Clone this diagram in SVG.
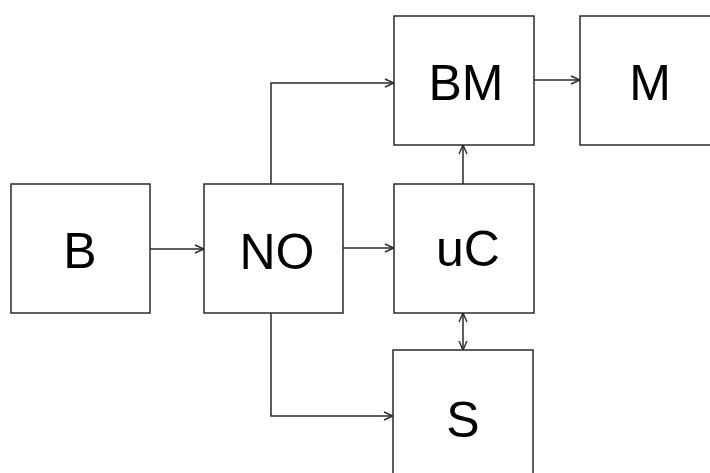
<svg xmlns="http://www.w3.org/2000/svg" width="710" height="473" viewBox="0 0 710 473">
<style>
.box{fill:#fff;stroke:#2a2a2a;stroke-width:1.5}
.lbl{font-family:"Liberation Sans",Arial,sans-serif;font-size:50px;fill:#000;text-anchor:middle}
.con{fill:none;stroke:#2a2a2a;stroke-width:1.5}
</style>
<defs>
<marker id="arr" viewBox="0 0 10 10" refX="10" refY="5" markerWidth="10" markerHeight="10" markerUnits="userSpaceOnUse" orient="auto-start-reverse">
<path d="M1,1 L10,5 L1,9" fill="none" stroke="#2a2a2a" stroke-width="1.4"/>
</marker>
</defs>
<rect width="710" height="473" fill="#fff"/>
<g id="connectors">
<path class="con" d="M150,249 H204" marker-end="url(#arr)"/>
<path class="con" d="M343,248 H394" marker-end="url(#arr)"/>
<path class="con" d="M271,184 V83 H394" marker-end="url(#arr)"/>
<path class="con" d="M534,80 H580" marker-end="url(#arr)"/>
<path class="con" d="M463,184 V145" marker-end="url(#arr)"/>
<path class="con" d="M463,313 V350" marker-start="url(#arr)" marker-end="url(#arr)"/>
<path class="con" d="M271,313 V416 H393" marker-end="url(#arr)"/>
</g>
<g id="B"><rect class="box" x="11" y="184" width="139" height="129"/><text class="lbl" x="80" y="268">B</text></g>
<g id="NO"><rect class="box" x="204" y="184" width="139" height="129"/><text class="lbl" x="277" y="269">NO</text></g>
<g id="uC"><rect class="box" x="394" y="184" width="140" height="129"/><text class="lbl" x="468" y="266">uC</text></g>
<g id="BM"><rect class="box" x="394" y="16" width="140" height="129"/><text class="lbl" x="466" y="100">BM</text></g>
<g id="M"><rect class="box" x="580" y="16" width="140" height="129"/><text class="lbl" x="650" y="100">M</text></g>
<g id="S"><rect class="box" x="393" y="350" width="140" height="130"/><text class="lbl" x="463" y="437">S</text></g>
</svg>
